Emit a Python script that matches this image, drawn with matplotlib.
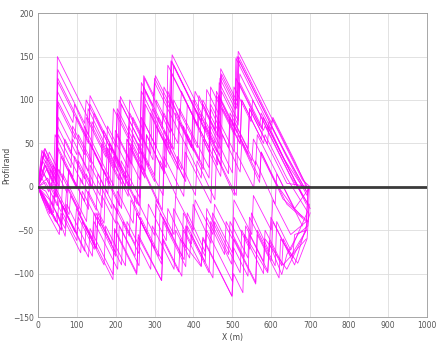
import matplotlib
matplotlib.use("Agg")
import matplotlib.pyplot as plt

# Profile traces (x in m, y values)
trace_x = [
    [0, 10, 18, 30, 46, 50, 100, 150, 193, 208, 212, 268, 272, 298, 302, 341, 345, 400, 466, 470, 511, 515, 560, 620, 680, 700],
    [0, 20, 45, 49, 70, 74, 120, 124, 193, 197, 254, 258, 318, 322, 362, 366, 420, 424, 499, 503, 527, 531, 591, 595, 627, 640, 668, 694, 698],
    [0, 15, 47, 51, 130, 134, 200, 204, 262, 266, 330, 334, 440, 444, 505, 509, 600, 604, 660, 690],
    [0, 20, 48, 52, 120, 124, 175, 179, 232, 236, 296, 300, 380, 384, 462, 466, 540, 544, 640, 700],
    [0, 30, 60, 64, 130, 134, 193, 197, 254, 258, 318, 322, 370, 374, 420, 424, 499, 503, 540, 544, 591, 595, 627, 631, 655, 660, 690, 694],
    [0, 12, 40, 44, 85, 89, 135, 139, 198, 202, 240, 244, 290, 294, 345, 349, 410, 414, 468, 472, 515, 519, 580, 584, 640, 660],
    [0, 8, 35, 39, 60, 64, 125, 129, 170, 174, 210, 214, 262, 266, 322, 326, 380, 384, 440, 444, 500, 504, 560, 564, 620, 680],
    [0, 15, 45, 49, 100, 104, 160, 164, 232, 236, 272, 276, 340, 344, 400, 404, 462, 466, 515, 519, 590, 594, 650, 692, 697],
    [0, 25, 55, 59, 110, 114, 170, 174, 225, 229, 290, 294, 350, 354, 390, 394, 430, 434, 500, 504, 560, 564, 620, 624, 668, 692, 698],
    [0, 18, 47, 51, 120, 124, 210, 214, 270, 274, 340, 344, 430, 434, 466, 470, 512, 516, 600, 604, 660, 695],
    [0, 10, 30, 34, 75, 79, 130, 134, 190, 194, 255, 259, 300, 304, 360, 364, 425, 429, 490, 494, 550, 554, 610, 650, 680],
    [0, 20, 50, 54, 105, 109, 150, 154, 205, 209, 262, 266, 320, 324, 375, 379, 445, 449, 510, 514, 570, 574, 640, 690, 696],
    [0, 30, 70, 74, 140, 144, 205, 209, 260, 264, 318, 322, 380, 384, 450, 454, 520, 524, 580, 584, 640, 690],
    [0, 12, 46, 50, 90, 94, 130, 134, 200, 204, 268, 272, 320, 324, 345, 349, 420, 424, 468, 472, 513, 517, 580, 640, 690],
    [0, 22, 48, 52, 100, 104, 180, 184, 240, 244, 300, 304, 360, 364, 440, 444, 505, 509, 570, 574, 630, 690],
    [0, 20, 40, 44, 80, 84, 140, 144, 200, 204, 250, 254, 310, 314, 370, 374, 430, 434, 490, 494, 540, 544, 600, 604, 660, 700],
    [0, 10, 25, 29, 65, 69, 120, 124, 165, 169, 230, 234, 285, 289, 335, 339, 395, 399, 455, 459, 520, 524, 575, 579, 630, 680, 700],
    [0, 15, 50, 54, 95, 99, 150, 154, 215, 219, 260, 264, 318, 322, 376, 380, 440, 444, 498, 502, 560, 564, 610, 614, 650, 692],
    [0, 25, 48, 52, 115, 119, 195, 199, 262, 266, 330, 334, 400, 404, 460, 464, 512, 516, 575, 579, 640, 680],
    [0, 16, 47, 51, 125, 129, 205, 209, 262, 266, 296, 300, 338, 342, 420, 424, 464, 468, 508, 512, 560, 620, 690],
    [0, 12, 30, 34, 60, 64, 100, 104, 150, 154, 190, 194, 235, 239, 280, 284, 330, 334, 380, 384, 430, 434, 480, 484, 530, 534, 580, 584, 630, 690],
    [0, 18, 48, 52, 90, 94, 135, 139, 180, 184, 225, 229, 275, 279, 320, 324, 370, 374, 415, 419, 470, 474, 520, 524, 580, 584, 640, 695],
    [0, 15, 40, 44, 70, 74, 110, 114, 160, 164, 200, 204, 245, 249, 300, 304, 350, 354, 400, 404, 450, 454, 500, 504, 550, 554, 600, 604, 650, 690],
    [0, 10, 35, 39, 75, 79, 120, 124, 165, 169, 215, 219, 260, 264, 310, 314, 355, 359, 405, 409, 455, 459, 505, 509, 555, 559, 610, 614, 660, 700],
    [0, 20, 46, 50, 85, 89, 130, 134, 175, 179, 225, 229, 268, 272, 305, 309, 350, 354, 395, 399, 440, 444, 490, 494, 540, 544, 590, 594, 640, 700],
    [0, 25, 60, 64, 100, 104, 145, 149, 200, 204, 250, 254, 300, 304, 345, 349, 395, 399, 445, 449, 500, 504, 545, 549, 595, 599, 650, 690],
    [0, 10, 28, 32, 55, 59, 100, 104, 140, 144, 185, 189, 235, 239, 275, 279, 325, 329, 375, 379, 420, 424, 470, 474, 520, 524, 570, 574, 630, 695],
    [0, 14, 47, 51, 95, 99, 140, 144, 190, 194, 232, 236, 272, 276, 320, 324, 365, 369, 410, 414, 455, 459, 500, 504, 548, 552, 600, 650, 695],
]
trace_y = [
    [0, 38, 44, 30, 16, 150, 105, 60, 21, 8, 104, 54, 128, 105, 128, 93, 152, 103, 44, 136, 99, 156, 116, 62, 8, 0],
    [0, -18, -40, -30, -57, -32, -74, -45, -107, -50, -101, -58, -108, -62, -98, -60, -92, -58, -126, -100, -122, -55, -99, -65, -101, -78, -55, -45, 0],
    [0, 40, 11, 121, 50, 95, 36, 90, 38, 110, 52, 140, 45, 115, 60, 148, 66, 80, 30, 0],
    [0, 25, 0, 98, 37, 80, 34, 70, 22, 85, 31, 120, 48, 95, 25, 105, 38, 90, 4, 0],
    [0, -25, -50, -22, -81, -48, -101, -48, -99, -55, -108, -60, -103, -50, -91, -60, -126, -70, -103, -55, -97, -62, -91, -60, -82, -55, -50, 0],
    [0, 30, 5, 60, 22, 70, 28, 75, 22, 60, 26, 80, 38, 90, 44, 100, 45, 85, 36, 110, 71, 120, 65, 70, 20, 2],
    [0, -8, -32, -10, -29, 15, -40, -5, -42, 10, -22, 30, -13, 40, -10, 55, 6, 60, 10, 70, 16, 75, 25, 60, 10, -45],
    [0, 15, -12, 45, -1, 40, -10, 50, -11, 45, 13, 95, 37, 130, 80, 110, 58, 120, 76, 130, 66, 75, 25, -10, 0],
    [0, -30, -55, -30, -76, -40, -90, -45, -91, -40, -95, -45, -95, -50, -82, -55, -87, -50, -109, -60, -110, -55, -105, -60, -88, -60, -20],
    [0, 44, 18, 135, 73, 100, 23, 95, 45, 125, 62, 145, 64, 112, 83, 128, 90, 150, 74, 78, 28, -2],
    [0, -12, -28, 5, -32, 20, -26, 25, -25, 35, -20, 50, 13, 70, 20, 75, 20, 70, 15, 80, 30, 55, 5, -20, -35],
    [0, 5, -22, 20, -26, 10, -27, 15, -31, 15, -33, 25, -27, 35, -11, 40, -19, 45, -10, 60, 10, 40, -20, -40, 0],
    [0, -15, -48, -20, -80, -40, -95, -45, -91, -35, -84, -40, -92, -45, -105, -40, -99, -50, -100, -60, -95, -50],
    [0, 35, 5, 110, 74, 95, 59, 105, 46, 85, 27, 115, 72, 85, 64, 140, 76, 95, 55, 130, 93, 145, 89, 35, -5],
    [0, 20, -5, 80, 37, 60, -8, 50, 0, 60, 6, 100, 50, 90, 22, 95, 40, 125, 70, 85, 35, -20],
    [0, -5, -22, 0, -32, -10, -60, -30, -80, -40, -80, -30, -80, -30, -80, -30, -80, -25, -78, -40, -82, -35, -85, -40, -90, -30],
    [0, 42, 30, 40, 8, 55, 9, 60, 23, 65, 10, 70, 24, 85, 44, 95, 45, 100, 50, 105, 50, 100, 54, 80, 34, 0, 0],
    [0, -10, -42, -15, -52, -25, -71, -35, -90, -40, -77, -40, -89, -35, -84, -45, -99, -40, -89, -60, -112, -50, -91, -40, -73, -30],
    [0, 10, -12, 60, 3, 70, 1, 65, 8, 80, 22, 110, 41, 90, 40, 105, 62, 120, 67, 80, 25, -10],
    [0, 40, 12, 125, 58, 90, 18, 100, 52, 120, 93, 125, 91, 145, 75, 100, 64, 125, 89, 150, 107, 53, -5],
    [0, -15, -31, -18, -42, -22, -54, -30, -71, -30, -66, -20, -57, -15, -54, -20, -62, -25, -70, -30, -75, -35, -78, -40, -81, -45, -86, -50, -90, -60],
    [0, 25, -2, 45, 11, 35, -2, 45, 8, 50, 10, 55, 10, 60, 20, 65, 20, 70, 30, 75, 25, 90, 49, 100, 50, 60, 10, -30],
    [0, -10, -30, -5, -28, 0, -32, -5, -45, -10, -42, -5, -42, -10, -56, -15, -55, -10, -50, -15, -55, -20, -60, -15, -55, -10, -50, -15, -55, -40],
    [0, 20, -2, 25, -7, 20, -17, 15, -24, 20, -25, 15, -22, 25, -20, 30, -10, 35, -10, 30, -15, 35, -10, 40, -1, 30, -20, 15, -25, 0],
    [0, 30, 7, 70, 38, 55, 18, 50, 13, 45, 0, 55, 20, 75, 45, 80, 43, 85, 45, 80, 40, 90, 45, 85, 44, 90, 49, 70, 25, -25],
    [0, -20, -50, -30, -62, -35, -72, -30, -76, -25, -66, -30, -71, -20, -57, -25, -66, -20, -65, -30, -76, -35, -72, -30, -75, -35, -80, -50],
    [0, 10, -6, 20, 0, 35, -2, 30, -2, 40, 3, 45, 0, 50, 18, 60, 15, 55, 10, 50, 10, 55, 12, 60, 17, 50, 5, 40, -14, -40],
    [0, 38, 8, 95, 55, 80, 43, 85, 40, 90, 56, 100, 64, 110, 67, 115, 78, 110, 70, 105, 65, 110, 70, 115, 75, 100, 57, 12, -20],
]

x_ticks = [0, 100, 200, 300, 400, 500, 600, 700, 800, 900, 1000]
y_ticks = [-150, -100, -50, 0, 50, 100, 150, 200]
x_label = "X (m)"
y_label = "Profilrand"

fig = plt.figure(figsize=(4.36, 3.45), dpi=100)
ax = fig.add_axes([0.087, 0.081, 0.892, 0.881])

for xs, ys in zip(trace_x, trace_y):
    ax.plot(xs, ys, color="#ff00ff", linewidth=0.6, alpha=0.85)

ax.axhline(0, color="#3a3a3a", linewidth=2.0, zorder=5)

ax.set_xlim(0, 1000)
ax.set_ylim(-150, 200)
ax.set_xticks(x_ticks)
ax.set_yticks(y_ticks)
ax.grid(True, color="#dddddd", linewidth=0.6)
ax.set_axisbelow(True)
ax.tick_params(labelsize=5.5, colors="#555555", length=0, pad=3)
for s in ax.spines.values():
    s.set_color("#999999")
    s.set_linewidth(0.6)
ax.set_xlabel(x_label, fontsize=5.5, color="#444444", labelpad=2)
ax.set_ylabel(y_label, fontsize=5.5, color="#444444")
ax.yaxis.set_label_coords(-0.068, 0.5)

fig.savefig("out.png", dpi=100)
